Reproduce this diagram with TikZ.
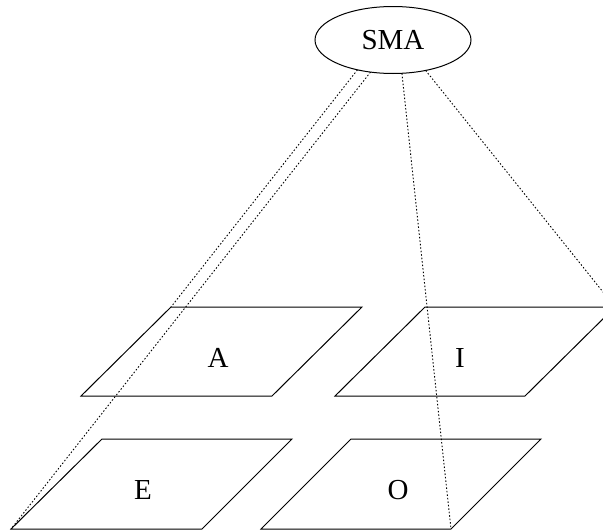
\documentclass[tikz,border=0pt]{standalone}
\usepackage{fontspec}
\setmainfont{Liberation Serif}
\usetikzlibrary{shapes.geometric}
\begin{document}
\begin{tikzpicture}[x=1pt,y=-1pt,
  lbl/.style={font=\fontsize{29}{33}\selectfont, inner sep=0pt},
  plane/.style={draw=black, line width=1pt, line join=miter},
  link/.style={draw=black, line width=0.9pt, dash pattern=on 1.5pt off 2pt}]
\useasboundingbox (0,0) rectangle (603,530);
% ellipse
\node[ellipse, draw, line width=1pt, minimum width=156pt, minimum height=67pt, inner sep=0pt, outer sep=0pt,
  font=\fontsize{29}{33}\selectfont] (sma) at (393,40) {SMA};
% planes corners
\coordinate (Abl) at (81,396);  \coordinate (Abr) at (272,396);
\coordinate (Atr) at (362,307); \coordinate (Atl) at (171,307);
\coordinate (Ibl) at (335,396); \coordinate (Ibr) at (525,396);
\coordinate (Itr) at (615,307); \coordinate (Itl) at (425,307);
\coordinate (Ebl) at (11,529);  \coordinate (Ebr) at (202,529);
\coordinate (Etr) at (292,439); \coordinate (Etl) at (102,439);
\coordinate (Obl) at (261,529); \coordinate (Obr) at (451,529);
\coordinate (Otr) at (541,439); \coordinate (Otl) at (351,439);
\begin{scope}
\clip (0,0) rectangle (603,530);
\draw[plane] (Abl) -- (Abr) -- (Atr) -- (Atl) -- cycle;
\draw[plane] (Ibl) -- (Ibr) -- (Itr) -- (Itl) -- cycle;
\draw[plane] (Ebl) -- (Ebr) -- (Etr) -- (Etl) -- cycle;
\draw[plane] (Obl) -- (Obr) -- (Otr) -- (Otl) -- cycle;
% links
\draw[link] (sma.220.6) -- (Atl);
\draw[link] (sma.235.6) -- (Ebl);
\draw[link] (sma.285) -- (Obr);
\draw[link] (sma.317.4) -- (Itr);
\end{scope}
% labels
\node[lbl] (a) at (218,358) {A};
\node[lbl] (i) at (460,358) {I};
\node[lbl] (e) at (143,490) {E};
\node[lbl] (o) at (398,490) {O};
\end{tikzpicture}
\end{document}
